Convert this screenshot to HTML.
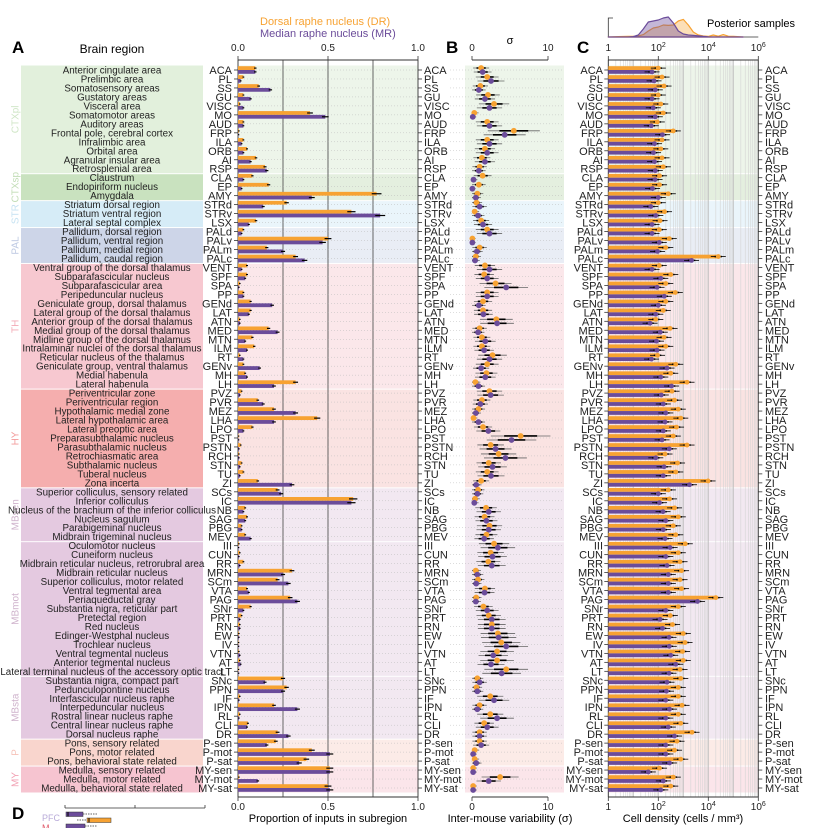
<!DOCTYPE html>
<html><head><meta charset="utf-8">
<style>
html,body{margin:0;padding:0;background:#fff;}
svg{display:block;font-family:"Liberation Sans",Arial,sans-serif;}
</style></head>
<body>
<svg id="fig" width="814" height="828" viewBox="0 0 814 828">
<g id="bg"></g>
<g id="grid"></g>
<g id="marks"></g>
<g id="labels"></g>
<text x="12" y="53" font-size="17" font-weight="bold">A</text>
<text x="112" y="53" font-size="12" text-anchor="middle">Brain region</text>
<text x="260" y="25" font-size="11" fill="#f7a232">Dorsal raphe nucleus (DR)</text>
<text x="260" y="37" font-size="11" fill="#6b4c9a">Median raphe nucleus (MR)</text>
<text x="446" y="53" font-size="17" font-weight="bold">B</text>
<text x="510" y="44" font-size="11" text-anchor="middle">σ</text>
<text x="577" y="53" font-size="17" font-weight="bold">C</text>
<text x="707" y="27" font-size="11">Posterior samples</text>
<text x="328" y="822" font-size="11" text-anchor="middle">Proportion of inputs in subregion</text>
<text x="510" y="822" font-size="11" text-anchor="middle">Inter-mouse variability (σ)</text>
<text x="683" y="822" font-size="11" text-anchor="middle">Cell density (cells / mm³)</text>
<g>
<text x="12" y="819" font-size="17" font-weight="bold">D</text>
<line x1="65" y1="808" x2="205" y2="808" stroke="#333" stroke-width="0.8"/>
<line x1="65" y1="805" x2="65" y2="808" stroke="#333" stroke-width="0.8"/>
<line x1="135" y1="805" x2="135" y2="808" stroke="#333" stroke-width="0.8"/>
<line x1="205" y1="805" x2="205" y2="808" stroke="#333" stroke-width="0.8"/>
<text x="42" y="821" font-size="9" fill="#b9abd9">PFC</text>
<text x="42" y="831" font-size="9" fill="#e05a6a">M</text>
<rect x="66" y="812" width="17" height="4.5" fill="#6b4c9a" stroke="#333" stroke-width="0.5"/>
<line x1="83" y1="814" x2="97" y2="814" stroke="#333" stroke-width="0.7" stroke-dasharray="1.5,1"/>
<line x1="68" y1="812" x2="68" y2="816.5" stroke="#000" stroke-width="1"/>
<line x1="77" y1="820" x2="87" y2="820" stroke="#333" stroke-width="0.7" stroke-dasharray="1.5,1"/>
<rect x="87" y="818" width="24" height="4.5" fill="#f7a232" stroke="#333" stroke-width="0.5"/>
<line x1="89" y1="818" x2="89" y2="822.5" stroke="#000" stroke-width="1"/>
<rect x="66" y="824" width="19" height="5" fill="#6b4c9a" stroke="#333" stroke-width="0.5"/>
<line x1="85" y1="826" x2="97" y2="826" stroke="#333" stroke-width="0.7" stroke-dasharray="1.5,1"/>
</g>
</svg>
<script>
// ---- data ----
const abbrevs = ["ACA","PL","SS","GU","VISC","MO","AUD","FRP","ILA","ORB","AI","RSP","CLA","EP","AMY","STRd","STRv","LSX","PALd","PALv","PALm","PALc","VENT","SPF","SPA","PP","GENd","LAT","ATN","MED","MTN","ILM","RT","GENv","MH","LH","PVZ","PVR","MEZ","LHA","LPO","PST","PSTN","RCH","STN","TU","ZI","SCs","IC","NB","SAG","PBG","MEV","III","CUN","RR","MRN","SCm","VTA","PAG","SNr","PRT","RN","EW","IV","VTN","AT","LT","SNc","PPN","IF","IPN","RL","CLI","DR","P-sen","P-mot","P-sat","MY-sen","MY-mot","MY-sat"];
const names = ["Anterior cingulate area","Prelimbic area","Somatosensory areas","Gustatory areas","Visceral area","Somatomotor areas","Auditory areas","Frontal pole, cerebral cortex","Infralimbic area","Orbital area","Agranular insular area","Retrosplenial area","Claustrum","Endopiriform nucleus","Amygdala","Striatum dorsal region","Striatum ventral region","Lateral septal complex","Pallidum, dorsal region","Pallidum, ventral region","Pallidum, medial region","Pallidum, caudal region","Ventral group of the dorsal thalamus","Subparafascicular nucleus","Subparafascicular area","Peripeduncular nucleus","Geniculate group, dorsal thalamus","Lateral group of the dorsal thalamus","Anterior group of the dorsal thalamus","Medial group of the dorsal thalamus","Midline group of the dorsal thalamus","Intralaminar nuclei of the dorsal thalamus","Reticular nucleus of the thalamus","Geniculate group, ventral thalamus","Medial habenula","Lateral habenula","Periventricular zone","Periventricular region","Hypothalamic medial zone","Lateral hypothalamic area","Lateral preoptic area","Preparasubthalamic nucleus","Parasubthalamic nucleus","Retrochiasmatic area","Subthalamic nucleus","Tuberal nucleus","Zona incerta","Superior colliculus, sensory related","Inferior colliculus","Nucleus of the brachium of the inferior colliculus","Nucleus sagulum","Parabigeminal nucleus","Midbrain trigeminal nucleus","Oculomotor nucleus","Cuneiform nucleus","Midbrain reticular nucleus, retrorubral area","Midbrain reticular nucleus","Superior colliculus, motor related","Ventral tegmental area","Periaqueductal gray","Substantia nigra, reticular part","Pretectal region","Red nucleus","Edinger-Westphal nucleus","Trochlear nucleus","Ventral tegmental nucleus","Anterior tegmental nucleus","Lateral terminal nucleus of the accessory optic tract","Substantia nigra, compact part","Pedunculopontine nucleus","Interfascicular nucleus raphe","Interpeduncular nucleus","Rostral linear nucleus raphe","Central linear nucleus raphe","Dorsal nucleus raphe","Pons, sensory related","Pons, motor related","Pons, behavioral state related","Medulla, sensory related","Medulla, motor related","Medulla, behavioral state related"];
const groupNames = ["CTXpl","CTXsp","STR","PAL","TH","HY","MBsen","MBmot","MBsta","P","MY"];
const groupSizes = [12,3,3,4,14,11,6,15,7,3,3];
const propDR = [0.096,0.03,0.115,0.03,0.01,0.40,0.03,0.005,0.03,0.05,0.10,0.15,0.08,0.17,0.77,0.27,0.63,0.10,0.03,0.50,0.16,0.32,0.05,0.05,0.01,0.03,0.07,0.07,0.01,0.17,0.08,0.09,0.01,0.03,0.04,0.32,0.02,0.11,0.20,0.44,0.08,0.003,0.015,0.005,0.02,0.03,0.11,0.22,0.64,0.04,0.05,0.02,0.04,0.005,0.01,0.03,0.30,0.22,0.05,0.29,0.07,0.02,0.01,0.005,0.003,0.005,0.01,0.003,0.25,0.27,0.01,0.20,0.01,0.055,0.22,0.21,0.41,0.38,0.51,0.005,0.50];
const propMR = [0.096,0.015,0.18,0.07,0.03,0.485,0.03,0.003,0.02,0.03,0.07,0.16,0.03,0.02,0.41,0.14,0.79,0.06,0.02,0.47,0.25,0.37,0.02,0.04,0.005,0.03,0.19,0.06,0.01,0.22,0.04,0.05,0.03,0.12,0.05,0.20,0.01,0.14,0.32,0.20,0.03,0.003,0.005,0.005,0.01,0.01,0.30,0.24,0.63,0.03,0.04,0.02,0.07,0.003,0.005,0.01,0.25,0.28,0.06,0.33,0.03,0.01,0.01,0.005,0.003,0.01,0.015,0.003,0.15,0.25,0.005,0.33,0.005,0.05,0.28,0.16,0.51,0.34,0.51,0.11,0.51];
const sigDR = [1.2,2.0,1.1,2.1,2.9,0.3,2.0,5.5,2.0,1.7,1.3,1.0,1.4,0.9,0.7,0.6,0.35,1.2,2.0,0.05,1.0,0.5,1.7,1.6,3.1,2.0,1.45,1.45,3.2,1.0,1.3,1.3,2.7,2.0,1.9,0.45,2.3,1.3,0.85,0.2,1.45,6.4,2.45,3.5,2.2,2.0,1.2,0.8,0.4,1.85,1.65,2.3,1.9,2.9,2.45,2.15,0.5,0.8,1.7,0.55,1.5,2.2,2.6,3.4,3.85,3.3,3.3,4.5,0.7,0.6,2.4,1.0,2.4,1.6,1.0,1.0,0.35,0.35,0.15,3.7,0.15];
const sigMR = [1.4,2.5,0.9,1.7,2.3,0.1,2.3,4.3,2.3,2.0,1.7,0.9,0.2,0.05,0.5,1.0,0.8,1.45,2.3,0.05,0.65,0.4,2.3,2.0,4.5,2.0,0.9,1.5,3.3,0.8,1.75,1.6,2.3,1.2,1.75,0.85,2.45,1.1,0.5,0.85,2.15,5.2,3.1,4.4,2.7,2.5,0.55,0.7,0.3,2.2,1.9,2.2,1.6,3.4,2.7,2.6,0.7,0.55,1.65,0.5,2.0,2.6,2.6,3.5,4.5,2.8,2.5,3.9,1.0,0.7,2.9,0.7,3.3,2.0,1.0,1.2,0.15,0.55,0.15,2.2,0.15];
const densDR = [2.0,2.15,2.23,2.0,2.1,2.2,1.96,2.6,2.15,2.1,2.15,2.2,2.05,2.05,2.4,2.0,2.25,2.07,2.04,2.44,2.3,4.4,2.04,2.5,2.3,2.68,2.3,2.2,1.9,2.47,2.23,2.3,1.97,2.7,2.5,3.15,2.55,2.65,2.8,2.9,2.73,2.6,3.15,2.27,2.77,2.7,3.99,2.4,2.45,2.65,2.8,2.6,2.7,3.08,2.8,2.87,2.93,2.87,2.93,4.3,2.8,2.48,2.57,3.0,3.07,2.97,3.0,2.87,2.9,2.8,2.8,2.95,2.8,2.9,3.35,2.75,2.65,2.9,2.05,2.6,2.5];
const densMR = [1.75,1.83,1.88,1.75,1.8,1.88,1.72,2.17,1.85,1.81,1.85,1.88,1.87,1.77,2.0,1.7,1.9,1.75,1.75,2.04,1.97,3.33,1.75,2.1,1.95,2.24,2.0,1.9,1.67,2.08,1.93,1.95,1.73,2.35,2.1,2.53,2.12,2.2,2.3,2.27,2.2,2.15,2.44,1.9,2.23,2.2,3.25,2.0,2.05,2.19,2.3,2.2,2.27,2.47,2.3,2.35,2.4,2.4,2.4,3.57,2.3,2.07,2.17,2.43,2.44,2.5,2.7,2.43,2.35,2.33,2.3,2.45,2.3,2.4,2.65,2.3,2.3,2.45,1.6,2.2,2.1];
// posterior density (log10 positions, relative heights)
const postLogs = [0,0.4,0.8,1.0,1.2,1.4,1.6,1.8,2.0,2.2,2.4,2.6,2.8,3.0,3.2,3.4,3.6,3.8,4.0,4.2,4.4,4.6,4.8,5.0,5.4];
const postMR = [0,0,0,0.02,0.1,0.4,0.75,0.8,0.85,0.95,1.0,0.7,0.3,0.15,0.1,0.08,0.06,0.03,0.01,0,0,0,0,0,0];
const postDR = [0,0.02,0.03,0.03,0.05,0.12,0.3,0.45,0.5,0.6,0.58,0.6,0.8,0.88,0.6,0.25,0.1,0.05,0.03,0.1,0.04,0.12,0.04,0.03,0];
const ticksA = ["0.0","0.5","1.0"]; const tickValsA=[0,0.5,1];
const ticksB = ["0","10"]; const tickValsB=[0,10];
const tickExpC = [0,2,4,6];

// ---- scales / style ----
const OR="#f7a232", PU="#6b4c9a";
const boxCol=["#e2f0dc","#c9e2bf","#d6ecf7","#cdd5e8","#f7c8d0","#f5aeae","#e4c9e0","#e4c9e0","#e4c9e0","#f9d5cd","#f6c4d0"];
const txtCol=["#cfe6c6","#c2ddb6","#c6e2f2","#bcc8e2","#f3a9b5","#f39a9a","#cfb3cc","#cfb3cc","#cfb3cc","#f6c2b8","#f2a2b4"];
const bandCol=["#edf5ea","#e4efdf","#eaf5fb","#e9edf5","#fbe7ea","#fae3e2","#f2e8f1","#f2e8f1","#f2e8f1","#fcebe7","#fbe5ea"];
const y = i => 70 + i*8.975;
const xA = v => 238 + v*180;
const xB = v => 472 + v*7.6;
const xC = lg => 608.3 + lg*25;
const NS="http://www.w3.org/2000/svg";
function mk(parent, tag, attrs, text){const e=document.createElementNS(NS,tag);for(const k in attrs)e.setAttribute(k,attrs[k]);if(text!==undefined)e.textContent=text;document.getElementById(parent).appendChild(e);return e;}

// backgrounds
let s=0;
groupSizes.forEach((n,g)=>{
  const t=y(s)-4.5+(g?1:0), b=y(s+n-1)+4.5;
  const r=mk("bg","rect",{x:21,y:t,width:182,height:b-t,fill:boxCol[g]});
  
  
  [[238,180],[465,99],[608.3,150]].forEach(([x0,w])=>{
    const bb=mk("bg","rect",{x:x0,y:t,width:w,height:b-t,fill:bandCol[g]});
    
    
  });
  const cy=(t+b)/2;
  const gl=mk("labels","text",{x:0,y:0,"font-size":10,fill:txtCol[g],"text-anchor":"middle",transform:`translate(18.5,${cy}) rotate(-90)`},groupNames[g]);
  
  
  s+=n;
});
// C grid
for(let d=0; d<6; d++){for(let m=1;m<10;m++){const lx=xC(d+Math.log10(m));mk("grid","line",{x1:lx,y1:60,x2:lx,y2:797,stroke:m==1?"#bbb":"#d4d4d4","stroke-width":m==1?0.8:0.6});}}
// A grid
[0.25,0.5,0.75].forEach(v=>mk("grid","line",{x1:xA(v),y1:60,x2:xA(v),y2:797,stroke:"#555","stroke-width":0.9}));
// rows
abbrevs.forEach((a,i)=>{
  const cy=y(i);
  mk("grid","line",{x1:238,y1:cy,x2:418,y2:cy,stroke:"#bbb","stroke-width":0.5,"stroke-dasharray":"1,2"});
  mk("grid","line",{x1:450,y1:cy,x2:564,y2:cy,stroke:"#bbb","stroke-width":0.5,"stroke-dasharray":"1,2"});
  const nm=mk("labels","text",{x:112,y:cy+3.5,"font-size":9.8,"text-anchor":"middle",fill:"#222"},names[i]);
  
  
  [[232,"end"],[424,"start"],[603,"end"],[765,"start"]].forEach(([lx,an])=>{
    const t=mk("labels","text",{x:lx,y:cy+4,"font-size":11,"text-anchor":an,fill:"#222"},a);
    
    
  });
  [[238,-4],[418,0],[608.3,-4],[758.3,0]].forEach(([lx,dx])=>mk("grid","line",{x1:lx+dx,y1:cy,x2:lx+dx+4,y2:cy,stroke:"#333","stroke-width":0.8}));
  // panel A bars
  [[propDR[i],OR,-3.8],[propMR[i],PU,0]].forEach(([v,c,off],k)=>{
    const r=mk("marks","rect",{x:238,y:cy+off,width:Math.max(0.3,xA(v)-238),height:3.8,fill:c});
    
    
    const e=0.03*v+0.004, ey=cy+off+1.9;
    mk("marks","line",{x1:xA(Math.max(0,v-e)),y1:ey,x2:xA(v+e),y2:ey,stroke:"#000","stroke-width":1.2});
  });
  // panel B points
  [[sigDR[i],OR,-2],[sigMR[i],PU,2]].forEach(([v,c,off],k)=>{
    const e1=0.3*v+0.25, e2=0.55*v+0.4;
    mk("marks","line",{x1:xB(Math.max(0,v-e2)),y1:cy+off,x2:xB(v+e2),y2:cy+off,stroke:"#666","stroke-width":0.8});
    mk("marks","line",{x1:xB(Math.max(0,v-e1)),y1:cy+off,x2:xB(v+e1),y2:cy+off,stroke:"#000","stroke-width":1.6});
    const p=mk("marks","circle",{cx:xB(v),cy:cy+off,r:2.9,fill:c});
    
    
  });
  // panel C bars
  [[densDR[i],OR,-3.8],[densMR[i],PU,0]].forEach(([v,c,off],k)=>{
    const r=mk("marks","rect",{x:608.3,y:cy+off,width:xC(v)-608.3,height:3.8,fill:c});
    
    
    const ey=cy+off+1.9;
    mk("marks","line",{x1:xC(v-0.3),y1:ey,x2:xC(v+0.3),y2:ey,stroke:"#000","stroke-width":0.8});
    mk("marks","line",{x1:xC(v-0.15),y1:ey,x2:xC(v+0.15),y2:ey,stroke:"#000","stroke-width":1.5});
    mk("marks","circle",{cx:xC(v),cy:ey,r:2.4,fill:c});
  });
});
// axes
function axisLine(x1,x2,yy){mk("grid","line",{x1:x1,y1:yy,x2:x2,y2:yy,stroke:"#333","stroke-width":0.9});}
axisLine(238,418,60);axisLine(238,418,797);axisLine(472,548,60);axisLine(472,548,797);axisLine(608.3,758.3,60);axisLine(608.3,758.3,797);
[[238],[418],[608.3],[758.3]].forEach(([lx])=>mk("grid","line",{x1:lx,y1:60,x2:lx,y2:797,stroke:"#333","stroke-width":0.9}));
function tick(x,lbl,name){
  mk("grid","line",{x1:x,y1:56,x2:x,y2:60,stroke:"#333","stroke-width":0.8});
  mk("grid","line",{x1:x,y1:797,x2:x,y2:801,stroke:"#333","stroke-width":0.8});
  [51,810].forEach(ty=>{const t=mk("labels","text",{x:x,y:ty,"font-size":10,"text-anchor":"middle",fill:"#222"});t.innerHTML=lbl;
    
    });
}
tickValsA.forEach((v,k)=>tick(xA(v),ticksA[k],'tick-label-a'));
tickValsB.forEach((v,k)=>tick(xB(v),ticksB[k],'tick-label-b'));
tickExpC.forEach(e=>tick(xC(e),e==0?"1":`10<tspan dy="-4" font-size="7">${e}</tspan>`,'tick-label-c'));
// posterior density
function area(vals,fill,stroke,name){
  let d=`M${xC(postLogs[0])},37`;
  postLogs.forEach((l,k)=>{d+=` L${xC(l)},${37-vals[k]*20}`;});
  d+=` L${xC(postLogs[postLogs.length-1])},37 Z`;
  const p=mk("marks","path",{d:d,fill:fill,stroke:stroke,"stroke-width":1.2,"stroke-linejoin":"round"});
  
  
}
area(postDR,"rgba(247,162,50,0.35)",OR,'posterior-density-dr');
area(postMR,"rgba(107,76,154,0.4)",PU,'posterior-density-mr');
mk("grid","line",{x1:608.3,y1:37,x2:758.3,y2:37,stroke:"#333","stroke-width":0.8});
mk("grid","polyline",{points:"613,18 608.3,18 608.3,37",fill:"none",stroke:"#333","stroke-width":0.8});
</script>
</body></html>
